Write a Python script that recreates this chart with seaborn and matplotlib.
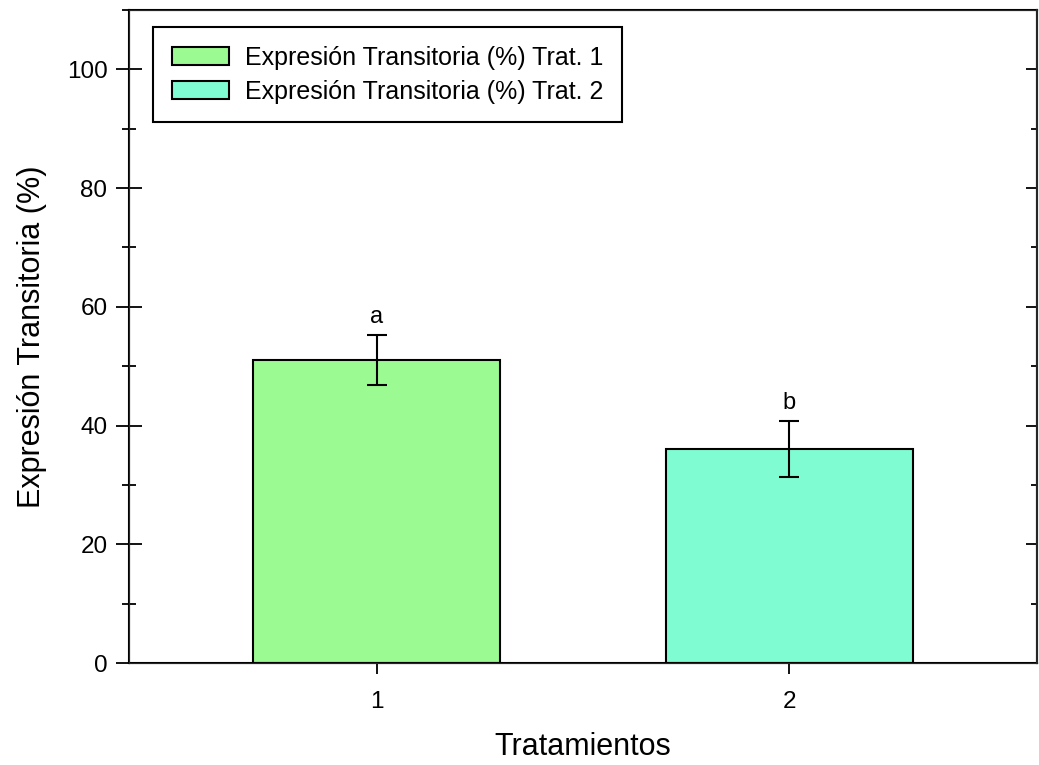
import numpy as np
import pandas as pd
import seaborn as sns
import matplotlib.pyplot as plt
from matplotlib.ticker import MultipleLocator

tratamientos = ["1", "2"]
expresion = [51.0, 36.0]
error = [4.25, 4.75]
letras = ["a", "b"]
series = ["Expresión Transitoria (%) Trat. 1", "Expresión Transitoria (%) Trat. 2"]
colores = ["#9CFA92", "#80FCD2"]

sns.set_style("ticks")
plt.rcParams['font.family'] = ['Liberation Sans', 'DejaVu Sans']
plt.rcParams['text.color'] = 'black'
plt.rcParams['axes.labelcolor'] = 'black'
plt.rcParams['xtick.color'] = 'black'
plt.rcParams['ytick.color'] = 'black'

df = pd.DataFrame({"trat": tratamientos, "val": expresion, "serie": series})

fig = plt.figure(figsize=(10.39, 7.65), dpi=100)
ax = fig.add_axes([129/1039, 1 - 663/765, (1037-129)/1039, (663-10)/765])

sns.barplot(data=df, x="trat", y="val", hue="serie", palette=colores,
            width=0.6, dodge=False, edgecolor="black", linewidth=1.5,
            saturation=1, errorbar=None, ax=ax)
ax.errorbar(x=np.arange(len(tratamientos)), y=expresion, yerr=error, fmt="none",
            ecolor="black", elinewidth=1.5, capsize=7.5, capthick=1.5)
for i, (v, e, l) in enumerate(zip(expresion, error, letras)):
    ax.annotate(l, (i, v + e), xytext=(0, 5), textcoords="offset points",
                ha="center", va="bottom", fontsize=17)

ax.set_xlim(-0.6, 1.6)
ax.set_ylim(0, 110)
ax.yaxis.set_minor_locator(MultipleLocator(10))
ax.set_yticks([0, 20, 40, 60, 80, 100])
ax.tick_params(axis="y", which="major", direction="inout", length=19, width=1.3, labelsize=17.5, pad=6)
ax.tick_params(axis="y", which="minor", direction="inout", length=10, width=1.3)
ax.tick_params(axis="x", direction="out", length=8, width=1.3, labelsize=17.5, pad=12)
for s in ax.spines.values():
    s.set_linewidth(1.5)
    s.set_color("black")

ax2 = ax.twinx()
ax2.set_ylim(0, 110)
ax2.yaxis.set_minor_locator(MultipleLocator(10))
ax2.set_yticks([20, 40, 60, 80, 100])
ax2.tick_params(axis="y", which="major", direction="in", length=8, width=1.3, labelright=False)
ax2.tick_params(axis="y", which="minor", direction="in", length=4, width=1.3)
ax2.spines["right"].set_linewidth(1.5)

ax.set_xlabel("Tratamientos", fontsize=22, labelpad=14)
ax.set_ylabel("Expresión Transitoria (%)", fontsize=22, labelpad=14)

leg = ax.legend(loc="upper left", bbox_to_anchor=(0.0264, 0.974), borderaxespad=0,
                fontsize=18, frameon=True, fancybox=False, edgecolor="black", framealpha=1,
                handlelength=2.3, handleheight=0.7, handletextpad=0.64,
                borderpad=0.75, labelspacing=0.4)
leg.get_frame().set_linewidth(1.5)
for h in leg.legend_handles:
    h.set_edgecolor("black")
    h.set_linewidth(1.5)

fig.savefig("out.png", dpi=100)
